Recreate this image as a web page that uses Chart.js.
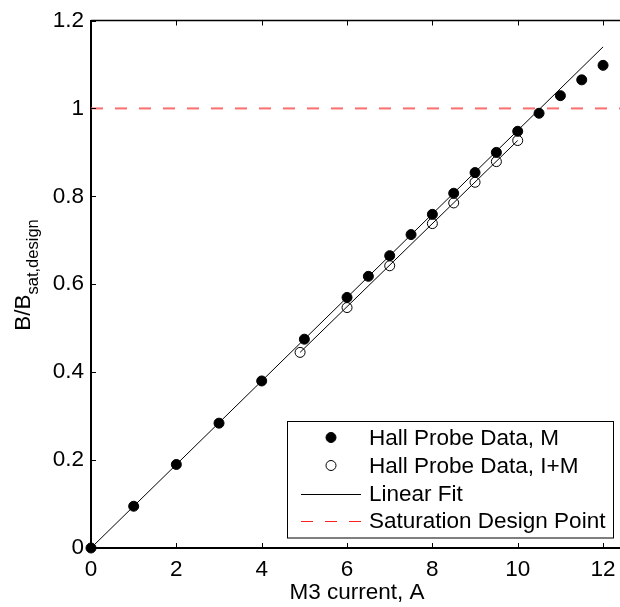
<!DOCTYPE html>
<html>
<head>
<meta charset="utf-8">
<script src="https://cdn.jsdelivr.net/npm/chart.js@4/dist/chart.umd.min.js"></script>
<style>
  html, body { margin: 0; padding: 0; background: #fff; overflow: hidden; }
  #wrap { width: 640px; height: 607px; }
</style>
</head>
<body>
<div id="wrap"><canvas id="fieldChart" width="640" height="607"></canvas></div>
<script>
// Hall probe measurements, magnet M only
const mCurrent = [0, 1, 2, 3, 4, 5, 6, 6.5, 7, 7.5, 8, 8.5, 9, 9.5, 10, 10.5, 11, 11.5, 12];
const mField = [0, 0.095, 0.190, 0.284, 0.380, 0.475, 0.570, 0.618, 0.665, 0.713, 0.759, 0.807, 0.854, 0.900, 0.948, 0.989, 1.029, 1.065, 1.098];

// Hall probe measurements, I+M
const imCurrent = [4.9, 6, 7, 8, 8.5, 9, 9.5, 10];
const imField = [0.445, 0.547, 0.642, 0.738, 0.785, 0.832, 0.879, 0.927];

// fit lines
const fitCurrent = [0, 12];
const fitField = [0, 1.14];
const fitImCurrent = [4.9, 10];
const fitImField = [0.445, 0.927];

// saturation design point
const satCurrent = [0, 12.5];
const satField = [1, 1];

const xTicks = [0, 2, 4, 6, 8, 10, 12];
const yTicks = [0, 0.2, 0.4, 0.6, 0.8, 1, 1.2];

const FONT = "'Liberation Sans', Arial, Helvetica, sans-serif";
const FONT_SIZE = 22.5;

function pts(xs, ys) {
    return xs.map((x, i) => ({ x: x, y: ys[i] }));
}

// axes box, inward ticks, axis labels and the boxed legend
const matlabFrame = {
    id: 'matlabFrame',
    afterDraw(chart) {
        const ctx = chart.ctx;
        const area = chart.chartArea;
        const xs = chart.scales.x;
        const ys = chart.scales.y;

        ctx.save();
        ctx.strokeStyle = '#000';
        ctx.lineWidth = 1.5;
        ctx.beginPath();
        ctx.moveTo(area.left, area.top);
        ctx.lineTo(area.right, area.top);
        ctx.stroke();

        ctx.lineWidth = 1;
        ctx.beginPath();
        xTicks.forEach(v => {
            const px = Math.round(xs.getPixelForValue(v)) + 0.5;
            ctx.moveTo(px, area.bottom);
            ctx.lineTo(px, area.bottom - 5);
            ctx.moveTo(px, area.top);
            ctx.lineTo(px, area.top + 5);
        });
        yTicks.forEach(v => {
            const py = Math.round(ys.getPixelForValue(v)) + 0.5;
            ctx.moveTo(area.left, py);
            ctx.lineTo(area.left + 5, py);
        });
        ctx.stroke();

        // x axis title
        ctx.fillStyle = '#000';
        ctx.font = FONT_SIZE + 'px ' + FONT;
        ctx.textAlign = 'center';
        ctx.textBaseline = 'alphabetic';
        ctx.fillText('M3 current, A', 357, 599);

        // y axis title with subscript
        ctx.save();
        ctx.translate(30, 275);
        ctx.rotate(-Math.PI / 2);
        ctx.textAlign = 'left';
        const mainTxt = 'B/B';
        const subTxt = 'sat,design';
        ctx.font = FONT_SIZE + 'px ' + FONT;
        const wMain = ctx.measureText(mainTxt).width;
        ctx.font = '16.5px ' + FONT;
        const wSub = ctx.measureText(subTxt).width;
        const start = -(wMain + wSub) / 2;
        ctx.font = FONT_SIZE + 'px ' + FONT;
        ctx.fillText(mainTxt, start, 0);
        ctx.font = '16.5px ' + FONT;
        ctx.fillText(subTxt, start + wMain, 8);
        ctx.restore();

        // legend
        const box = { left: 287.5, top: 421.5, right: 613.5, bottom: 538 };
        ctx.fillStyle = '#fff';
        ctx.fillRect(box.left, box.top, box.right - box.left, box.bottom - box.top);
        ctx.strokeStyle = '#000';
        ctx.lineWidth = 1;
        ctx.strokeRect(box.left, box.top, box.right - box.left, box.bottom - box.top);

        const rows = [437.5, 465.5, 493.5, 521];
        const entries = chart.data.datasets.filter(d => d.inLegend);
        ctx.font = FONT_SIZE + 'px ' + FONT;
        ctx.textAlign = 'left';
        ctx.textBaseline = 'middle';
        entries.forEach((d, i) => {
            const cy = rows[i];
            if (d.showLine === false) {
                ctx.beginPath();
                ctx.arc(331, cy, 5, 0, Math.PI * 2);
                ctx.lineWidth = 1;
                ctx.strokeStyle = d.pointBorderColor;
                if (d.pointBackgroundColor !== 'transparent') {
                    ctx.fillStyle = d.pointBackgroundColor;
                    ctx.fill();
                }
                ctx.stroke();
            } else {
                ctx.beginPath();
                ctx.setLineDash(d.borderDash || []);
                ctx.strokeStyle = d.legendColor || d.borderColor;
                ctx.lineWidth = 1;
                ctx.moveTo(301, Math.round(cy) + 0.5);
                ctx.lineTo(361, Math.round(cy) + 0.5);
                ctx.stroke();
                ctx.setLineDash([]);
            }
            ctx.fillStyle = '#000';
            ctx.fillText(d.label, 369, cy + 1);
        });
        ctx.restore();
    }
};

new Chart(document.getElementById('fieldChart'), {
    type: 'scatter',
    data: {
        datasets: [
            {
                label: 'Hall Probe Data, M',
                inLegend: true,
                data: pts(mCurrent, mField),
                showLine: false,
                clip: false,
                pointRadius: 5,
                pointBackgroundColor: '#000',
                pointBorderColor: '#000',
                pointBorderWidth: 1,
                order: 1
            },
            {
                label: 'Hall Probe Data, I+M',
                inLegend: true,
                data: pts(imCurrent, imField),
                showLine: false,
                pointRadius: 5,
                pointBackgroundColor: 'transparent',
                pointBorderColor: '#000',
                pointBorderWidth: 1,
                order: 2
            },
            {
                label: 'Linear Fit',
                inLegend: true,
                data: pts(fitCurrent, fitField),
                showLine: true,
                borderColor: '#000',
                borderWidth: 1,
                pointRadius: 0,
                order: 3
            },
            {
                label: 'Linear Fit, I+M',
                inLegend: false,
                data: pts(fitImCurrent, fitImField),
                showLine: true,
                borderColor: '#000',
                borderWidth: 1,
                pointRadius: 0,
                order: 3
            },
            {
                label: 'Saturation Design Point',
                inLegend: true,
                data: pts(satCurrent, satField),
                showLine: true,
                borderColor: 'rgb(250,110,110)',
                legendColor: '#ff2020',
                borderWidth: 2,
                borderDash: [12, 12],
                pointRadius: 0,
                order: 4
            }
        ]
    },
    options: {
        responsive: false,
        animation: false,
        layout: { padding: { top: 15, right: 15.6, left: 0, bottom: 0 } },
        plugins: {
            legend: { display: false },
            tooltip: { enabled: false }
        },
        scales: {
            x: {
                type: 'linear',
                min: 0,
                max: 12.5,
                afterBuildTicks: scale => { scale.ticks = xTicks.map(v => ({ value: v })); },
                afterFit: scale => { scale.height = 59; },
                grid: { display: false, drawTicks: false },
                border: { display: true, color: '#000', width: 2 },
                ticks: {
                    padding: 8,
                    color: '#000',
                    font: { family: FONT, size: FONT_SIZE },
                    maxRotation: 0,
                    callback: v => String(v)
                }
            },
            y: {
                type: 'linear',
                min: 0,
                max: 1.2,
                afterBuildTicks: scale => { scale.ticks = yTicks.map(v => ({ value: v })); },
                afterFit: scale => { scale.width = 91; },
                grid: { display: false, drawTicks: false },
                border: { display: true, color: '#000', width: 2 },
                ticks: {
                    padding: 7,
                    color: '#000',
                    font: { family: FONT, size: FONT_SIZE },
                    callback: v => String(+v.toFixed(1))
                }
            }
        }
    },
    plugins: [matlabFrame]
});
</script>
</body>
</html>
